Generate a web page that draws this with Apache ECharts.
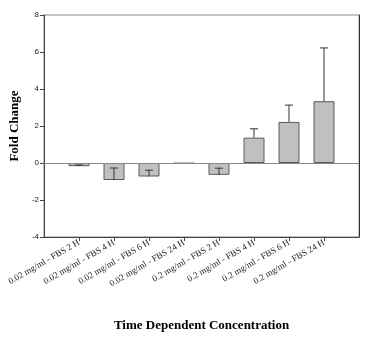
<!DOCTYPE html>
<html>
<head>
<meta charset="utf-8">
<script src="https://cdn.jsdelivr.net/npm/echarts@6/dist/echarts.min.js"></script>
<style>
  html, body { margin: 0; padding: 0; background: #fff; }
  #main { width: 377px; height: 337px; }
</style>
</head>
<body>
<div id="main"></div>
<script>
// categories (padded with an empty slot on each side, as in the original plot)
var categories = ['', '0.02 mg/ml - FBS 2 H', '0.02 mg/ml - FBS 4 H', '0.02 mg/ml - FBS 6 H', '0.02 mg/ml - FBS 24 H',
  '0.2 mg/ml - FBS 2 H', '0.2 mg/ml - FBS 4 H', '0.2 mg/ml - FBS 6 H', '0.2 mg/ml - FBS 24 H', ''];
var foldChange = [null, -0.17, -0.92, -0.73, -0.03, -0.64, 1.37, 2.22, 3.34, null];
var errSize = [null, 0.06, 0.65, 0.34, 0, 0.36, 0.48, 0.91, 2.88, null];
var yTicks = [-4, -2, 0, 2, 4, 6, 8];

var errData = [];
for (var i = 0; i < categories.length; i++) {
  if (foldChange[i] !== null && errSize[i] > 0) {
    errData.push([i, foldChange[i], foldChange[i] + errSize[i]]);
  }
}

var myChart = echarts.init(document.getElementById('main'));
var option = {
  animation: false,
  grid: {
    left: 42, right: 18, top: 15, bottom: 97,
    show: true, borderColor: '#888', borderWidth: 1
  },
  xAxis: {
    type: 'category',
    data: categories,
    boundaryGap: false,
    name: 'Time Dependent Concentration',
    nameLocation: 'middle',
    nameGap: 82,
    nameTextStyle: { fontFamily: 'Liberation Serif', fontWeight: 'bold', fontSize: 13, color: '#000' },
    axisLine: { onZero: false, lineStyle: { color: '#444' } },
    axisTick: {
      length: 4, lineStyle: { color: '#444' },
      interval: function (idx) { return idx > 0 && idx < categories.length - 1; }
    },
    axisLabel: {
      rotate: 30, fontFamily: 'Liberation Serif', fontSize: 9, color: '#222', margin: 5,
      interval: 0
    },
    splitLine: { show: false }
  },
  yAxis: [{
    type: 'value',
    min: yTicks[0], max: yTicks[yTicks.length - 1], interval: 2,
    name: 'Fold Change',
    nameLocation: 'middle',
    nameGap: 22,
    nameTextStyle: { fontFamily: 'Liberation Serif', fontWeight: 'bold', fontSize: 13, color: '#000' },
    axisLine: { show: true, lineStyle: { color: '#444' } },
    axisTick: { show: true, length: 4, lineStyle: { color: '#444' } },
    axisLabel: { fontFamily: 'Liberation Sans', fontSize: 8, color: '#222', margin: 5 },
    splitLine: { show: false }
  }, {
    type: 'value',
    position: 'right',
    min: yTicks[0], max: yTicks[yTicks.length - 1], interval: 2,
    axisLine: { show: true, lineStyle: { color: '#333' } },
    axisTick: { show: false },
    axisLabel: { show: false },
    splitLine: { show: false }
  }],
  series: [{
    type: 'bar',
    data: foldChange,
    barWidth: 21,
    itemStyle: { color: '#c0c0c0', borderColor: '#5a5a5a', borderWidth: 1 },
    markLine: {
      silent: true,
      symbol: 'none',
      label: { show: false },
      lineStyle: { color: '#888', type: 'solid', width: 1 },
      data: [{ yAxis: 0 }]
    },
    z: 2
  }, {
    type: 'custom',
    data: errData,
    z: 3,
    renderItem: function (params, api) {
      var base = api.coord([api.value(0), api.value(1)]);
      var top = api.coord([api.value(0), api.value(2)]);
      var half = 4;
      var style = { stroke: '#333', lineWidth: 1 };
      return {
        type: 'group',
        children: [
          { type: 'line', shape: { x1: base[0], y1: base[1], x2: top[0], y2: top[1] }, style: style },
          { type: 'line', shape: { x1: top[0] - half, y1: top[1], x2: top[0] + half, y2: top[1] }, style: style }
        ]
      };
    }
  }]
};
myChart.setOption(option);
</script>
</body>
</html>
